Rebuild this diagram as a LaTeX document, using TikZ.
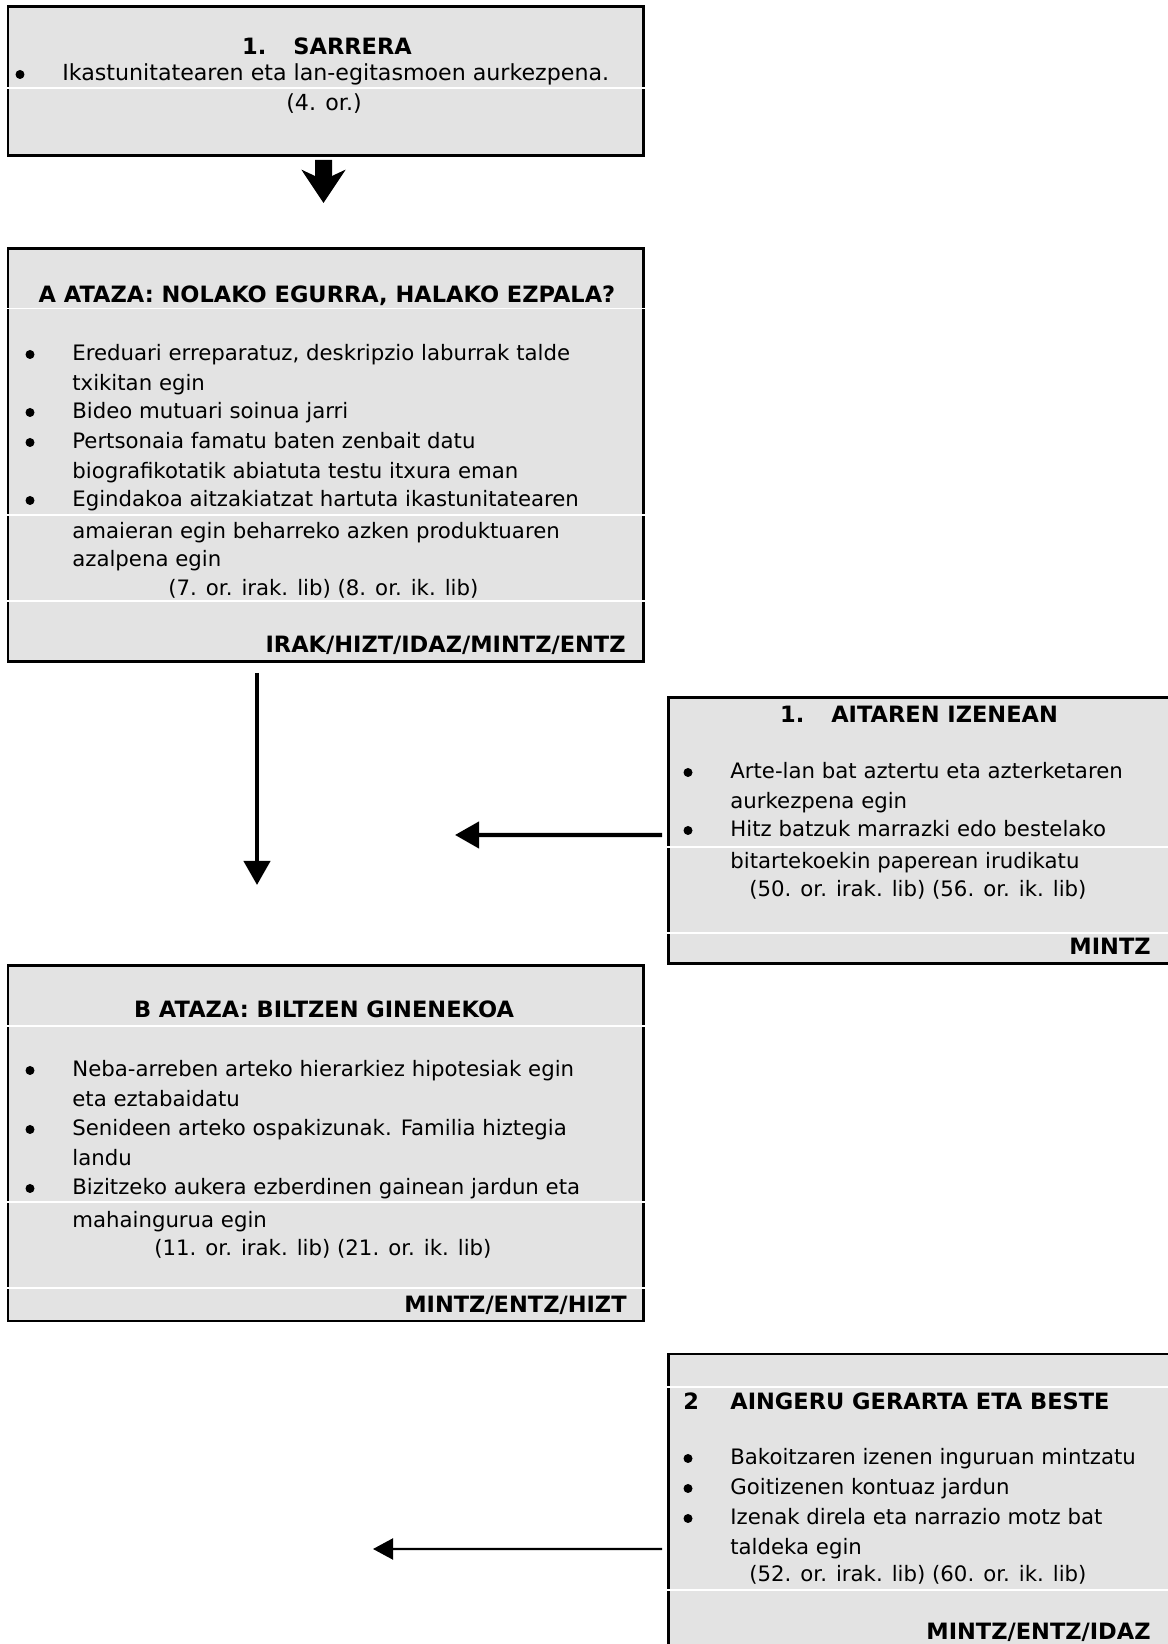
\documentclass[tikz,border=0pt]{standalone}
\usepackage{fontspec}
\setmainfont{DejaVu Sans}
\usepackage{tikz}
\usetikzlibrary{arrows.meta}

\definecolor{boxgray}{RGB}{227,227,227}

\begin{document}
\begin{tikzpicture}[
	panel/.style={draw, line width=1.7pt, fill=boxgray, anchor=north west, inner sep=0pt, outer sep=0pt},
	body/.style={anchor=base west, inner sep=0pt, font=\fontsize{12.1}{15}\selectfont},
	bodyL/.style={anchor=base west, inner sep=0pt, font=\fontsize{12.6}{15}\selectfont},
	mid/.style={anchor=base, inner sep=0pt, font=\fontsize{12.6}{15}\selectfont},
	dot/.style={circle, fill, inner sep=0pt, minimum size=0.18cm},
	head/.style={anchor=base, inner sep=0pt, font=\bfseries\fontsize{12.8}{15}\selectfont},
	headl/.style={anchor=base west, inner sep=0pt, font=\bfseries\fontsize{12.8}{15}\selectfont},
	tag/.style={anchor=base east, inner sep=0pt, font=\bfseries\fontsize{12.8}{15}\selectfont},
	rowline/.style={white, line width=0.6pt},
	bigarrow/.style={line width=0.34cm, -{Stealth[width=0.87cm,length=0.66cm,inset=0.2cm]}},
	arr/.style={line width=2.4pt, -{Triangle[width=0.52cm,length=0.48cm]}},
	thinarr/.style={line width=1.2pt, -{Triangle[width=0.42cm,length=0.40cm]}}
	]
	\useasboundingbox (0,0) rectangle (23.34,32.88);
	
	%boxes
	\node[panel, minimum width=12.70cm, minimum height=2.98cm] (sarrera) at (0.16,32.74) {};
	\node[panel, minimum width=12.70cm, minimum height=8.26cm] (atazaA)  at (0.16,27.90) {};
	\node[panel, minimum width=10.08cm, minimum height=5.32cm] (aitaren) at (13.36,18.92) {};
	\node[panel, minimum width=12.70cm, minimum height=7.10cm] (atazaB)  at (0.16,13.56) {};
	\node[panel, minimum width=10.08cm, minimum height=6.40cm] (aingeru) at (13.36,5.80) {};
	
	%white row lines
	\draw[rowline] (0.08,31.12)--(12.94,31.12);		%sarrera
	\draw[rowline] (0.08,26.71)--(12.94,26.71);		%A
	\draw[rowline] (0.08,22.58)--(12.94,22.58);
	\draw[rowline] (0.08,20.86)--(12.94,20.86);
	\draw[rowline] (0.08,12.36)--(12.94,12.36);		%B
	\draw[rowline] (0.08,8.84)--(12.94,8.84);
	\draw[rowline] (0.08,7.12)--(12.94,7.12);
	\draw[rowline] (13.28,15.94)--(23.50,15.94);	%aitaren
	\draw[rowline] (13.28,14.22)--(23.50,14.22);
	\draw[rowline] (13.28,5.14)--(23.50,5.14);		%aingeru
	\draw[rowline] (13.28,1.08)--(23.50,1.08);
	
	%sarrera
	\node[head]  (s0)  at (6.54,31.78) {1.\hspace{0.54cm}SARRERA};
	\node[dot]   (s1b) at (0.40,31.39) {};
	\node[bodyL] (s1)  at (1.24,31.26) {Ikastunitatearen eta lan-egitasmoen aurkezpena.};
	\node[mid]   (s2)  at (6.48,30.66) {(4. or.)};
	
	%A ataza
	\node[head] (aT)  at (6.54,26.82) {A ATAZA: NOLAKO EGURRA, HALAKO EZPALA?};
	\node[dot]  (a1b) at (0.60,25.79) {};
	\node[body] (a1)  at (1.44,25.66) {Ereduari erreparatuz, deskripzio laburrak talde};
	\node[body] (a2)  at (1.44,25.06) {txikitan egin};
	\node[dot]  (a3b) at (0.60,24.63) {};
	\node[body] (a3)  at (1.44,24.50) {Bideo mutuari soinua jarri};
	\node[dot]  (a4b) at (0.60,24.03) {};
	\node[body] (a4)  at (1.44,23.90) {Pertsonaia famatu baten zenbait datu};
	\node[body] (a5)  at (1.44,23.30) {biografikotatik abiatuta testu itxura eman};
	\node[dot]  (a6b) at (0.60,22.87) {};
	\node[body] (a6)  at (1.44,22.74) {Egindakoa aitzakiatzat hartuta ikastunitatearen};
	\node[body] (a7)  at (1.44,22.10) {amaieran egin beharreko azken produktuaren};
	\node[body] (a8)  at (1.44,21.54) {azalpena egin};
	\node[body] (a9)  at (3.36,20.96) {(7. or. irak. lib) (8. or. ik. lib)};
	\node[tag]  (aTag) at (12.52,19.82) {IRAK/HIZT/IDAZ/MINTZ/ENTZ};
	
	%aitaren izenean
	\node[head] (rT)  at (18.38,18.42) {1.\hspace{0.54cm}AITAREN IZENEAN};
	\node[dot]  (r1b) at (13.76,17.43) {};
	\node[body] (r1)  at (14.60,17.30) {Arte-lan bat aztertu eta azterketaren};
	\node[body] (r2)  at (14.60,16.70) {aurkezpena egin};
	\node[dot]  (r3b) at (13.76,16.27) {};
	\node[body] (r3)  at (14.60,16.14) {Hitz batzuk marrazki edo bestelako};
	\node[body] (r4)  at (14.60,15.50) {bitartekoekin paperean irudikatu};
	\node[body] (r5)  at (14.98,14.94) {(50. or. irak. lib) (56. or. ik. lib)};
	\node[tag]  (rTag) at (23.02,13.78) {MINTZ};
	
	%B ataza
	\node[head] (bT)  at (6.48,12.52) {B ATAZA: BILTZEN GINENEKOA};
	\node[dot]  (b1b) at (0.60,11.47) {};
	\node[body] (b1)  at (1.44,11.34) {Neba-arreben arteko hierarkiez hipotesiak egin};
	\node[body] (b2)  at (1.44,10.74) {eta eztabaidatu};
	\node[dot]  (b3b) at (0.60,10.29) {};
	\node[body] (b3)  at (1.44,10.16) {Senideen arteko ospakizunak. Familia hiztegia};
	\node[body] (b4)  at (1.44,9.56)  {landu};
	\node[dot]  (b5b) at (0.60,9.11)  {};
	\node[body] (b5)  at (1.44,8.98)  {Bizitzeko aukera ezberdinen gainean jardun eta};
	\node[body] (b6)  at (1.44,8.32)  {mahaingurua egin};
	\node[body] (b7)  at (3.08,7.76)  {(11. or. irak. lib) (21. or. ik. lib)};
	\node[tag]  (bTag) at (12.54,6.62) {MINTZ/ENTZ/HIZT};
	
	%aingeru gerarta
	\node[headl] (gN) at (13.66,4.68) {2};
	\node[headl] (gT) at (14.60,4.68) {AINGERU GERARTA ETA BESTE};
	\node[dot]  (g1b) at (13.76,3.71) {};
	\node[body] (g1)  at (14.60,3.58) {Bakoitzaren izenen inguruan mintzatu};
	\node[dot]  (g2b) at (13.76,3.11) {};
	\node[body] (g2)  at (14.60,2.98) {Goitizenen kontuaz jardun};
	\node[dot]  (g3b) at (13.76,2.51) {};
	\node[body] (g3)  at (14.60,2.38) {Izenak direla eta narrazio motz bat};
	\node[body] (g4)  at (14.60,1.78) {taldeka egin};
	\node[body] (g5)  at (14.98,1.24) {(52. or. irak. lib) (60. or. ik. lib)};
	\node[tag]  (gTag) at (23.02,0.08) {MINTZ/ENTZ/IDAZ};
	
	%arrows
	\coordinate (sarreraTip) at (6.47,28.82);
	\draw[bigarrow] ([shift={(-0.04,-0.08)}]sarrera.south)--(sarreraTip);	%thick down arrow
	\coordinate (aOut) at ([shift={(4.98,-0.22)}]atazaA.south west);
	\coordinate (bIn)  at ([shift={(4.98,1.62)}]atazaB.north west);
	\draw[arr] (aOut)--(bIn);												%A to B
	\coordinate (aitarenTip) at (9.10,16.18);
	\draw[arr] ([shift={(-0.12,-0.08)}]aitaren.west)--(aitarenTip);			%aitaren arrow
	\coordinate (aingeruTip) at (7.46,1.90);
	\draw[thinarr] ([shift={(-0.12,-3.90)}]aingeru.north west)--(aingeruTip);	%aingeru arrow
	
\end{tikzpicture}
\end{document}
